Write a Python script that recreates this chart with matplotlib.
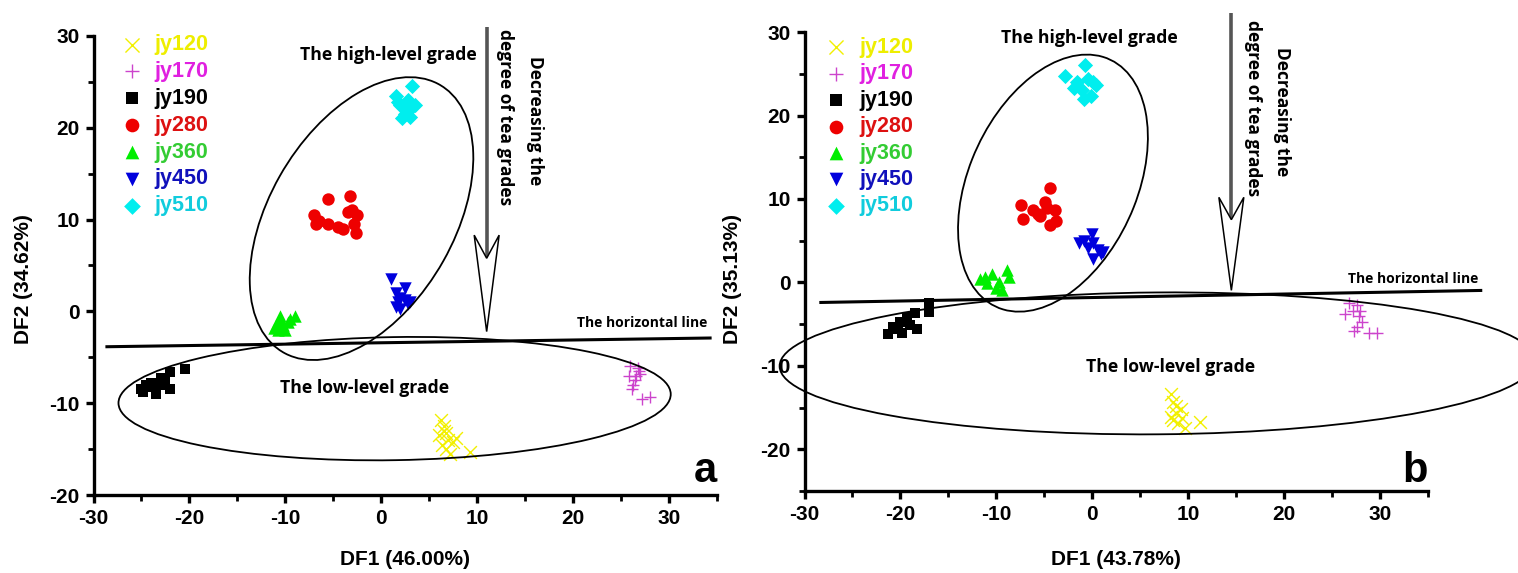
import matplotlib
matplotlib.use("Agg")

import matplotlib.pyplot as plt
from matplotlib.patches import Ellipse, Polygon
from matplotlib.ticker import MultipleLocator

plt.rcParams["font.family"] = ["Liberation Sans", "DejaVu Sans"]
plt.rcParams["font.weight"] = "bold"
plt.rcParams["axes.unicode_minus"] = False

# ---------------------------------------------------------------------------
# Scores (DF1, DF2), panel a and panel b
# ---------------------------------------------------------------------------

LABELS = ["jy120", "jy170", "jy190", "jy280", "jy360", "jy450", "jy510"]

A_JY120_X = [6.2, 6.5, 6.0, 6.8, 7.0, 6.3, 7.5, 6.8, 7.2, 9.3, 6.5, 7.8]
A_JY120_Y = [-11.8, -12.5, -13.5, -13.2, -14.0, -14.5, -14.2, -15.0, -15.5, -15.3, -13.0, -13.8]
A_JY170_X = [26.0, 26.8, 27.0, 25.8, 26.5, 26.3, 26.6, 26.2, 27.2, 28.0, 26.9]
A_JY170_Y = [-6.0, -6.2, -6.8, -7.0, -7.5, -8.0, -7.0, -8.5, -9.5, -9.3, -6.5]
A_JY190_X = [-25.0, -24.5, -24.0, -23.5, -23.0, -22.5, -22.0, -22.0, -20.5, -23.8, -24.8, -23.0]
A_JY190_Y = [-8.5, -8.0, -7.8, -9.0, -7.2, -7.5, -6.6, -8.5, -6.3, -8.2, -8.8, -8.0]
A_JY280_X = [-5.5, -3.2, -7.0, -6.5, -5.5, -4.5, -4.0, -3.5, -3.0, -2.5, -2.8, -2.6, -6.8]
A_JY280_Y = [12.2, 12.6, 10.5, 9.8, 9.5, 9.2, 9.0, 10.8, 11.0, 10.5, 9.5, 8.5, 9.5]
A_JY360_X = [-11.0, -10.5, -10.0, -9.5, -9.0, -10.8, -10.2, -11.2, -9.7, -10.5]
A_JY360_Y = [-1.5, -1.0, -2.0, -0.8, -0.5, -2.0, -1.5, -1.8, -1.2, -0.5]
A_JY450_X = [1.0, 1.5, 2.0, 2.5, 3.0, 1.5, 2.0, 2.5, 1.8, 2.8]
A_JY450_Y = [3.5, 2.0, 1.5, 2.5, 1.0, 0.5, 0.3, 1.2, 1.0, 0.8]
A_JY510_X = [1.5, 3.2, 2.0, 2.5, 3.0, 3.5, 2.8, 2.2, 3.0, 1.8]
A_JY510_Y = [23.5, 24.5, 22.5, 21.5, 22.0, 22.5, 23.0, 21.0, 21.2, 22.8]

B_JY120_X = [8.2, 8.4, 8.7, 9.2, 8.4, 9.4, 9.7, 11.2, 8.9, 8.2, 8.7]
B_JY120_Y = [-13.4, -14.3, -15.6, -15.2, -16.5, -16.3, -17.4, -16.7, -16.9, -16.1, -14.8]
B_JY170_X = [26.8, 27.6, 26.3, 27.8, 28.1, 27.6, 27.3, 28.8, 29.7, 27.2, 27.9]
B_JY170_Y = [-2.5, -2.7, -3.8, -4.0, -4.7, -5.3, -5.8, -6.0, -6.0, -3.4, -3.4]
B_JY190_X = [-21.3, -20.8, -20.0, -19.3, -18.5, -17.0, -17.0, -18.3, -19.8, -19.0, -20.3]
B_JY190_Y = [-6.2, -5.3, -4.7, -4.2, -3.7, -3.6, -2.5, -5.55, -6.0, -5.1, -5.55]
B_JY280_X = [-4.4, -7.4, -7.2, -6.2, -4.9, -5.4, -3.9, -3.8, -4.4, -5.7, -4.7]
B_JY280_Y = [11.3, 9.3, 7.6, 8.7, 9.6, 8.0, 8.7, 7.4, 6.9, 8.2, 8.9]
B_JY360_X = [-11.2, -10.5, -8.9, -9.7, -9.4, -11.0, -8.7, -10.0, -11.7]
B_JY360_Y = [0.6, 1.0, 1.5, 0.1, -0.95, -0.08, 0.6, -0.7, 0.4]
B_JY450_X = [0.0, -0.9, 0.05, 0.6, 1.1, 0.05, -0.4, -1.4, 0.9]
B_JY450_Y = [5.8, 5.0, 4.7, 3.9, 3.6, 2.8, 4.1, 4.7, 3.4]
B_JY510_X = [-0.78, -2.8, -1.6, -0.4, 0.4, -1.1, -0.1, -0.9, -1.9, 0.1]
B_JY510_Y = [26.0, 24.7, 24.0, 24.4, 23.6, 23.1, 22.4, 22.0, 23.3, 24.0]

A_SERIES = [(A_JY120_X, A_JY120_Y), (A_JY170_X, A_JY170_Y), (A_JY190_X, A_JY190_Y),
            (A_JY280_X, A_JY280_Y), (A_JY360_X, A_JY360_Y), (A_JY450_X, A_JY450_Y),
            (A_JY510_X, A_JY510_Y)]
B_SERIES = [(B_JY120_X, B_JY120_Y), (B_JY170_X, B_JY170_Y), (B_JY190_X, B_JY190_Y),
            (B_JY280_X, B_JY280_Y), (B_JY360_X, B_JY360_Y), (B_JY450_X, B_JY450_Y),
            (B_JY510_X, B_JY510_Y)]

A_XLABEL, A_YLABEL = "DF1 (46.00%)", "DF2 (34.62%)"
B_XLABEL, B_YLABEL = "DF1 (43.78%)", "DF2 (35.13%)"

# ---------------------------------------------------------------------------
# Style
# ---------------------------------------------------------------------------

MARKERS = ["x", "+", "s", "o", "^", "v", "D"]
COLORS = ["#f2f000", "#cc44cc", "#000000", "#ee0000", "#00ee00", "#0000dd", "#00eeee"]
TEXT_COLORS = ["#eeee00", "#e020e0", "#000000", "#dd1111", "#33cc33", "#1111bb", "#11ccdd"]
SIZES = [85, 85, 60, 80, 80, 80, 60]
NOTE_FONT = ["Open Sans", "DejaVu Sans"]
TICK_FONT = ["Liberation Sans Narrow", "Liberation Sans"]


def hollow_arrow(ax, x, y_top, y_tip, y_head, head_hw=1.3):
    # thick shaft ending in the notch of an open, barbed head
    y_notch = y_head - 0.24 * (y_head - y_tip)
    ax.plot([x, x], [y_top, y_notch], color="#555555", linewidth=2.6,
            solid_capstyle="butt", clip_on=False, zorder=5)
    pts = [(x - head_hw, y_head), (x, y_notch), (x + head_hw, y_head), (x, y_tip)]
    ax.add_patch(Polygon(pts, closed=True, facecolor="white", edgecolor="black",
                         linewidth=1.1, clip_on=False, zorder=5))


def draw_panel(ax, series, xlabel, ylabel, ylim, letter, cfg):
    for (xs, ys), lab, m, c, s in zip(series, LABELS, MARKERS, COLORS, SIZES):
        lw = 1.0 if m in ("x", "+") else 0
        ax.scatter(xs, ys, marker=m, s=s, color=c, linewidths=lw, label=lab, zorder=3)

    ax.set_xlim(-30, 35)
    ax.set_ylim(*ylim)
    ax.set_xticks([-30, -20, -10, 0, 10, 20, 30])
    ax.xaxis.set_minor_locator(MultipleLocator(5))
    ax.yaxis.set_major_locator(MultipleLocator(10))
    ax.yaxis.set_minor_locator(MultipleLocator(5))
    for side in ("top", "right"):
        ax.spines[side].set_visible(False)
    for side in ("left", "bottom"):
        ax.spines[side].set_linewidth(2.4)
    ax.tick_params(which="major", length=6, width=2.4, pad=4, labelsize=15,
                   labelfontfamily=TICK_FONT)
    ax.tick_params(which="minor", length=4, width=2.0)
    for t in ax.get_xticklabels() + ax.get_yticklabels():
        t.set_fontweight("bold")

    ax.set_xlabel(xlabel, fontsize=15, fontweight="bold", va="top")
    ax.set_ylabel(ylabel, fontsize=15, fontweight="bold")
    ax.xaxis.set_label_coords(0.5, cfg["xlab_y"])
    ax.yaxis.set_label_coords(cfg["ylab_x"], cfg["ylab_y"])

    leg = ax.legend(loc="upper left", bbox_to_anchor=cfg["leg_anchor"], frameon=False,
                    fontsize=15.5, handletextpad=0.55, labelspacing=cfg["leg_space"],
                    borderaxespad=0, markerscale=1.1, handlelength=1.0)
    for txt, col in zip(leg.get_texts(), TEXT_COLORS):
        txt.set_color(col)
        txt.set_fontweight("bold")

    for cx, cy, w, h, ang in cfg["ellipses"]:
        ax.add_patch(Ellipse((cx, cy), w, h, angle=ang, fill=False, edgecolor="black",
                             linewidth=1.3, clip_on=False, zorder=4))

    (x0, y0), (x1, y1) = cfg["hline"]
    ax.plot([x0, x1], [y0, y1], color="black", linewidth=2.2, clip_on=False, zorder=4)

    ax.text(*cfg["hline_txt"], "The horizontal line", fontsize=10, fontweight="bold",
            ha="center", va="center", family=NOTE_FONT)
    ax.text(*cfg["high_txt"], "The high-level grade", fontsize=12.7, fontweight="bold",
            ha="center", va="center", family=NOTE_FONT)
    ax.text(*cfg["low_txt"], "The low-level grade", fontsize=12.7, fontweight="bold",
            ha="center", va="center", family=NOTE_FONT)
    (tx1, ty1), (tx2, ty2) = cfg["arrow_txt"]
    ax.text(tx1, ty1, "Decreasing the", fontsize=12.5, fontweight="bold", rotation=-90,
            ha="center", va="center", family=NOTE_FONT)
    ax.text(tx2, ty2, "degree of tea grades", fontsize=12.5, fontweight="bold",
            rotation=-90, ha="center", va="center", family=NOTE_FONT)
    hollow_arrow(ax, *cfg["arrow"])
    ax.text(*cfg["letter"], letter, fontsize=30, fontweight="bold", ha="right", va="center")


CFG_A = dict(
    xlab_y=-0.12, ylab_x=-0.097, ylab_y=0.47, leg_anchor=(0.031, 1.022), leg_space=0.27,
    ellipses=[(-2.05, 10.1, 33.4, 19.4, 61.6), (1.4, -9.5, 57.6, 13.4, 1.0)],
    hline=((-28.6, -3.85), (34.3, -2.9)),
    hline_txt=(27.2, -1.3), high_txt=(0.8, 27.9), low_txt=(-1.7, -8.3),
    arrow_txt=((16.0, 20.8), (12.9, 21.2)), arrow=(11.0, 31.0, -2.2, 8.3),
    letter=(35.0, -17.4),
)
CFG_B = dict(
    xlab_y=-0.128, ylab_x=-0.100, ylab_y=0.462, leg_anchor=(0.02, 1.008), leg_space=0.25,
    ellipses=[(-4.1, 11.9, 32.0, 17.8, 71.0), (6.8, -9.7, 78.8, 17.0, 0.5)],
    hline=((-28.3, -2.4), (40.5, -0.96)),
    hline_txt=(33.5, 0.4), high_txt=(-0.3, 29.3), low_txt=(8.2, -10.1),
    arrow_txt=((19.8, 20.5), (16.75, 20.85)), arrow=(14.5, 32.3, -0.95, 10.2),
    letter=(35.0, -22.6),
)


def main() -> None:
    fig = plt.figure(figsize=(15.18, 5.73), dpi=100)
    ax_a = fig.add_axes([0.0616, 0.136, 0.4106, 0.8015])
    ax_b = fig.add_axes([0.530, 0.143, 0.4107, 0.801])
    draw_panel(ax_a, A_SERIES, A_XLABEL, A_YLABEL, (-20, 30), "a", CFG_A)
    draw_panel(ax_b, B_SERIES, B_XLABEL, B_YLABEL, (-25, 30), "b", CFG_B)
    fig.savefig("out.png", dpi=100)


if __name__ == "__main__":
    main()
